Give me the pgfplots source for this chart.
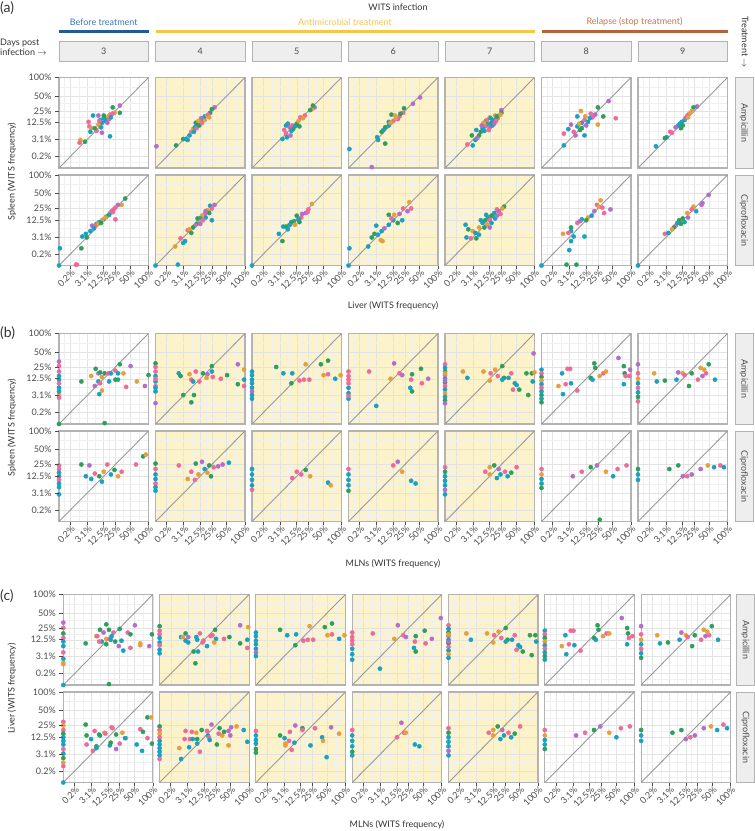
\documentclass[border=0pt]{standalone}
\usepackage{fontspec}
\setmainfont{Lato}
\usepackage{pgfplots}
\pgfplotsset{compat=1.18}
\definecolor{cp}{HTML}{EE6A9B}
\definecolor{co}{HTML}{E4A03C}
\definecolor{cg}{HTML}{2E9E5C}
\definecolor{ct}{HTML}{1AA0C0}
\definecolor{cv}{HTML}{B36DCB}
\definecolor{bgy}{HTML}{FCF3CB}
\definecolor{frm}{HTML}{B3B3B3}
\definecolor{txt}{HTML}{4D4D4D}
\definecolor{txtd}{HTML}{333333}
\definecolor{stripf}{HTML}{EEEEEE}
\definecolor{diag}{HTML}{999999}
\definecolor{lblue}{HTML}{245A94}
\definecolor{tblue}{HTML}{3C74B4}
\definecolor{lyel}{HTML}{F6C746}
\definecolor{tyel}{HTML}{F1C352}
\definecolor{lbrn}{HTML}{B5613A}
\definecolor{tbrn}{HTML}{C3744F}
\newcommand{\fs}{\fontsize{9}{10.5}\selectfont}
\pgfplotsset{
 panel/.style={scale only axis, width=89.5pt, height=90.5pt, xmin=0, xmax=1, ymin=0, ymax=1,
  xtick={0.125,0.315,0.5,0.63,0.7937,1}, ytick={0.125,0.315,0.5,0.63,0.7937,1},
  minor xtick={0.0625,0.22,0.4075,0.565,0.712,0.897}, minor ytick={0.0625,0.22,0.4075,0.565,0.712,0.897},
  grid=both, major grid style={draw=black!11, line width=0.5pt}, minor grid style={draw=black!6, line width=0.35pt},
  major tick length=0pt, minor tick length=0pt,
  xticklabels={}, yticklabels={},
  axis line style={draw=frm, line width=1.1pt},
  clip=false, anchor=south west},
 yel/.style={axis background/.style={fill=bgy}},
 L/.style={yticklabels={0.2\%,3.1\%,12.5\%,25\%,50\%,100\%}, yticklabel style={font=\fs, text=txt, xshift=-4pt}},
 B/.style={xticklabels={0.2\%,3.1\%,12.5\%,25\%,50\%,100\%}, xticklabel style={font=\fs, text=txt, rotate=45, anchor=north east, inner sep=1.5pt, yshift=-1pt}},
 pts/.style={only marks, mark=*, scatter, scatter src=explicit symbolic, mark size=2.1pt,
   scatter/classes={p={mark=*,draw=cp,fill=cp},o={mark=*,draw=co,fill=co},g={mark=*,draw=cg,fill=cg},t={mark=*,draw=ct,fill=ct},v={mark=*,draw=cv,fill=cv}}},
}
\newcommand{\pnl}[4]{\begin{axis}[panel,at={(#1pt,-#2pt)},#3]
\addplot[no marks, draw=diag, line width=0.9pt] coordinates {(0,0) (1,1)};
\addplot[pts] coordinates {#4};
\end{axis}}
\begin{document}
\begin{tikzpicture}[every node/.style={text=txtd}]
\path[use as bounding box] (0,0) rectangle (755pt,-831pt);
% ---------------- headers
\node[font=\fs] at (398pt,-7pt) {WITS infection};
\draw[lblue, line width=2.6pt] (59pt,-31.7pt) -- (148.5pt,-31.7pt);
\node[font=\fs, text=tblue] at (103.75pt,-22pt) {Before treatment};
\draw[lyel, line width=2.6pt] (155.5pt,-31.7pt) -- (534.5pt,-31.7pt);
\node[font=\fs, text=tyel] at (345pt,-22pt) {Antimicrobial treatment};
\draw[lbrn, line width=2.6pt] (541.5pt,-31.7pt) -- (727.5pt,-31.7pt);
\node[font=\fs, text=tbrn] at (634.5pt,-22pt) {Relapse (stop treatment)};
\foreach \x/\d in {59/3,155.5/4,252/5,348.5/6,445/7,541.5/8,638/9}{
 \draw[fill=stripf, draw=frm, line width=1pt] (\x pt,-41pt) rectangle ({\x pt+89.5pt},-61pt);
 \node[font=\fs, text=txt] at ({\x pt+44.75pt},-51pt) {\d};}
\node[font=\fs, anchor=west, align=left, inner sep=0pt] at (0pt,-47.5pt) {Days post\\infection $\rightarrow$};
\node[font=\fs, rotate=-90] at (745pt,-42pt) {Treatment $\rightarrow$};
\node[font=\fontsize{14}{16}\selectfont, anchor=west, inner sep=0pt] at (0pt,-8pt) {(a)};
\node[font=\fontsize{14}{16}\selectfont, anchor=west, inner sep=0pt] at (0pt,-333.5pt) {(b)};
\node[font=\fontsize{14}{16}\selectfont, anchor=west, inner sep=0pt] at (0pt,-596pt) {(c)};
% right strips
\foreach \t/\b/\lab/\xo in {77.5/168/Ampicillin/0,175/265.5/Ciprofloxacin/0,333.5/424/Ampicillin/0,431/521.5/Ciprofloxacin/0,594.5/685/Ampicillin/1.5,692/782.5/Ciprofloxacin/1.5}{
 \draw[fill=stripf, draw=frm, line width=1pt] ({735pt+\xo pt},-\t pt) rectangle ({753pt+\xo pt},-\b pt);
 \node[font=\fs, rotate=-90, text=txt] at ({744pt+\xo pt},{-(\t pt+\b pt)/2}) {\lab};}
% axis titles
\node[font=\fs, rotate=90] at (12pt,-171.5pt) {Spleen (WITS frequency)};
\node[font=\fs, rotate=90] at (12pt,-427.5pt) {Spleen (WITS frequency)};
\node[font=\fs, rotate=90] at (12pt,-688.5pt) {Liver (WITS frequency)};
\node[font=\fs] at (393pt,-306pt) {Liver (WITS frequency)};
\node[font=\fs] at (393pt,-564pt) {MLNs (WITS frequency)};
\node[font=\fs] at (397pt,-825pt) {MLNs (WITS frequency)};
% ================= (a) row 1
\pnl{59}{168}{L}{(0.68,0.69)[v] (0.60,0.67)[g] (0.68,0.61)[g] (0.62,0.61)[o] (0.57,0.59)[p] (0.60,0.60)[p] (0.38,0.58)[t] (0.44,0.58)[v] (0.33,0.51)[p] (0.34,0.46)[p] (0.36,0.44)[o] (0.57,0.35)[t] (0.24,0.31)[o] (0.23,0.28)[p] (0.29,0.29)[g] (0.46,0.53)[t] (0.50,0.55)[t] (0.53,0.55)[t] (0.48,0.50)[t] (0.52,0.52)[t] (0.44,0.48)[o] (0.42,0.41)[p] (0.48,0.39)[v] (0.35,0.40)[t] (0.55,0.57)[o] (0.56,0.54)[p] (0.50,0.58)[g] (0.47,0.45)[t] (0.40,0.44)[g] (0.54,0.50)[v] (0.45,0.52)[p] (0.58,0.56)[t]}
\pnl{155.5}{168}{yel}{(0.01,0.24)[v] (0.23,0.25)[g] (0.31,0.32)[g] (0.36,0.31)[t] (0.34,0.32)[t] (0.38,0.36)[t] (0.40,0.40)[p] (0.42,0.43)[o] (0.44,0.45)[t] (0.46,0.44)[p] (0.47,0.48)[t] (0.49,0.47)[g] (0.50,0.51)[t] (0.52,0.50)[p] (0.53,0.54)[t] (0.55,0.53)[o] (0.55,0.57)[t] (0.58,0.58)[o] (0.61,0.61)[g] (0.59,0.59)[p] (0.66,0.67)[v] (0.63,0.65)[g] (0.60,0.56)[o] (0.45,0.50)[g] (0.51,0.55)[v] (0.43,0.40)[t] (0.48,0.52)[o]}
\pnl{252}{168}{yel}{(0.70,0.67)[v] (0.67,0.65)[o] (0.65,0.64)[g] (0.68,0.69)[g] (0.59,0.58)[p] (0.54,0.56)[p] (0.57,0.55)[o] (0.38,0.47)[t] (0.40,0.49)[t] (0.42,0.45)[v] (0.45,0.47)[p] (0.48,0.46)[t] (0.50,0.49)[g] (0.53,0.46)[g] (0.46,0.43)[g] (0.38,0.38)[p] (0.34,0.32)[t] (0.39,0.34)[t] (0.43,0.36)[v] (0.52,0.52)[o] (0.36,0.42)[p] (0.44,0.41)[t]}
\pnl{348.5}{168}{yel}{(0.80,0.78)[v] (0.72,0.71)[v] (0.62,0.66)[g] (0.48,0.59)[g] (0.57,0.57)[p] (0.55,0.54)[v] (0.52,0.58)[o] (0.61,0.61)[p] (0.45,0.47)[t] (0.41,0.45)[g] (0.45,0.51)[t] (0.37,0.40)[g] (0.32,0.34)[t] (0.33,0.31)[t] (0.41,0.27)[g] (0.01,0.21)[t] (0.26,0.01)[v] (0.50,0.52)[p] (0.53,0.55)[o] (0.39,0.42)[t] (0.47,0.50)[o] (0.58,0.60)[g]}
\pnl{445}{168}{yel}{(0.63,0.64)[v] (0.63,0.61)[g] (0.56,0.58)[o] (0.50,0.56)[o] (0.46,0.52)[g] (0.59,0.55)[p] (0.55,0.53)[t] (0.52,0.50)[g] (0.48,0.48)[t] (0.45,0.46)[p] (0.42,0.44)[t] (0.40,0.40)[g] (0.44,0.41)[t] (0.50,0.45)[v] (0.53,0.47)[t] (0.57,0.52)[p] (0.60,0.58)[o] (0.38,0.36)[g] (0.30,0.36)[g] (0.34,0.31)[t] (0.25,0.26)[p] (0.31,0.25)[t] (0.36,0.33)[v] (0.47,0.53)[p] (0.51,0.55)[t] (0.43,0.50)[o] (0.55,0.49)[v] (0.58,0.57)[g] (0.49,0.42)[p] (0.41,0.47)[v] (0.62,0.59)[o] (0.35,0.42)[t]}
\pnl{541.5}{168}{}{(0.75,0.74)[v] (0.63,0.67)[g] (0.69,0.57)[g] (0.83,0.55)[p] (0.44,0.63)[o] (0.40,0.57)[t] (0.55,0.60)[p] (0.63,0.48)[o] (0.57,0.56)[p] (0.49,0.57)[o] (0.33,0.48)[v] (0.30,0.43)[t] (0.40,0.46)[t] (0.45,0.50)[t] (0.48,0.53)[p] (0.52,0.51)[t] (0.43,0.42)[g] (0.25,0.38)[p] (0.48,0.36)[t] (0.25,0.25)[t] (0.38,0.36)[v] (0.45,0.44)[g] (0.36,0.40)[p] (0.54,0.55)[t] (0.60,0.59)[v] (0.50,0.47)[v] (0.42,0.49)[o]}
\pnl{638}{168}{}{(0.66,0.68)[v] (0.62,0.67)[g] (0.60,0.63)[o] (0.57,0.60)[o] (0.55,0.58)[p] (0.52,0.53)[t] (0.49,0.51)[t] (0.47,0.49)[t] (0.45,0.47)[t] (0.50,0.47)[g] (0.53,0.55)[v] (0.42,0.45)[v] (0.36,0.40)[p] (0.38,0.39)[p] (0.32,0.34)[t] (0.30,0.33)[g] (0.20,0.24)[t] (0.48,0.44)[g] (0.56,0.56)[o]}
% ================= (a) row 2
\pnl{59}{265.5}{L,B}{(0.74,0.74)[g] (0.70,0.67)[o] (0.66,0.67)[v] (0.61,0.62)[p] (0.63,0.64)[p] (0.57,0.58)[o] (0.59,0.60)[v] (0.63,0.51)[p] (0.56,0.56)[t] (0.53,0.54)[g] (0.50,0.51)[t] (0.48,0.50)[o] (0.45,0.48)[t] (0.42,0.46)[t] (0.40,0.44)[p] (0.37,0.44)[v] (0.39,0.41)[t] (0.35,0.38)[t] (0.30,0.35)[t] (0.26,0.32)[t] (0.31,0.31)[g] (0.25,0.19)[g] (0.01,0.19)[t] (0.19,0.01)[p] (0.20,0.01)[p] (0.00,0.00)[t] (0.44,0.46)[o] (0.47,0.47)[g] (0.52,0.53)[o] (0.60,0.59)[p]}
\pnl{155.5}{265.5}{yel,B}{(0.66,0.67)[v] (0.61,0.66)[t] (0.63,0.63)[p] (0.58,0.61)[o] (0.60,0.58)[g] (0.55,0.57)[p] (0.56,0.53)[t] (0.52,0.55)[o] (0.50,0.52)[t] (0.53,0.50)[p] (0.48,0.49)[o] (0.46,0.46)[t] (0.50,0.46)[v] (0.44,0.44)[p] (0.42,0.42)[g] (0.63,0.50)[t] (0.36,0.39)[p] (0.38,0.40)[o] (0.40,0.36)[g] (0.31,0.25)[t] (0.28,0.30)[p] (0.33,0.27)[t] (0.22,0.21)[o] (0.25,0.01)[t] (0.00,0.00)[t] (0.56,0.60)[v] (0.47,0.52)[g]}
\pnl{252}{265.5}{yel,B}{(0.67,0.68)[o] (0.63,0.62)[p] (0.60,0.58)[v] (0.62,0.59)[p] (0.50,0.55)[g] (0.55,0.53)[p] (0.52,0.51)[t] (0.47,0.49)[t] (0.44,0.48)[g] (0.42,0.45)[t] (0.35,0.43)[t] (0.38,0.43)[g] (0.30,0.35)[t] (0.34,0.27)[g] (0.40,0.40)[t] (0.53,0.48)[g] (0.56,0.57)[v] (0.48,0.45)[o] (0.00,0.00)[t]}
\pnl{348.5}{265.5}{yel,B}{(0.68,0.70)[o] (0.61,0.63)[p] (0.70,0.63)[p] (0.66,0.60)[v] (0.45,0.56)[g] (0.51,0.56)[o] (0.57,0.57)[v] (0.60,0.50)[t] (0.55,0.47)[g] (0.50,0.50)[t] (0.31,0.44)[t] (0.37,0.38)[t] (0.29,0.35)[g] (0.33,0.34)[t] (0.26,0.31)[g] (0.36,0.28)[o] (0.38,0.27)[o] (0.22,0.21)[t] (0.01,0.19)[t] (0.45,0.45)[t] (0.48,0.52)[p] (0.40,0.41)[v] (0.00,0.00)[t]}
\pnl{445}{265.5}{yel,B}{(0.66,0.65)[g] (0.58,0.62)[p] (0.64,0.63)[o] (0.60,0.60)[v] (0.55,0.58)[t] (0.52,0.55)[g] (0.48,0.53)[t] (0.45,0.50)[g] (0.50,0.50)[p] (0.56,0.52)[t] (0.62,0.57)[p] (0.42,0.47)[t] (0.40,0.50)[t] (0.47,0.45)[o] (0.52,0.47)[t] (0.44,0.42)[g] (0.38,0.42)[o] (0.23,0.45)[t] (0.26,0.40)[g] (0.31,0.38)[o] (0.24,0.31)[t] (0.29,0.30)[p] (0.35,0.30)[g] (0.38,0.34)[t] (0.50,0.42)[v] (0.58,0.55)[v] (0.34,0.36)[t] (0.46,0.56)[t]}
\pnl{541.5}{265.5}{B}{(0.66,0.72)[o] (0.62,0.67)[p] (0.64,0.65)[o] (0.70,0.58)[p] (0.59,0.60)[v] (0.52,0.53)[o] (0.45,0.51)[t] (0.40,0.47)[p] (0.43,0.49)[v] (0.33,0.42)[g] (0.33,0.38)[t] (0.24,0.35)[o] (0.30,0.36)[p] (0.36,0.32)[t] (0.48,0.32)[t] (0.33,0.27)[t] (0.31,0.17)[t] (0.28,0.01)[g] (0.39,0.01)[g] (0.77,0.62)[v] (0.56,0.55)[t] (0.50,0.50)[g] (0.00,0.00)[t] (0.68,0.64)[p]}
\pnl{638}{265.5}{B}{(0.79,0.78)[v] (0.72,0.69)[v] (0.71,0.67)[v] (0.62,0.65)[o] (0.60,0.62)[p] (0.65,0.60)[t] (0.55,0.58)[o] (0.50,0.52)[g] (0.46,0.50)[g] (0.52,0.48)[t] (0.48,0.46)[g] (0.42,0.44)[p] (0.44,0.47)[t] (0.40,0.42)[g] (0.30,0.35)[p] (0.34,0.36)[t] (0.56,0.53)[v] (0.38,0.40)[o] (0.00,0.00)[t]}
% ================= (b) row 1
\pnl{59}{424}{L}{(0,0.69)[v] (0,0.64)[p] (0,0.58)[p] (0,0.53)[t] (0,0.49)[t] (0,0.45)[p] (0,0.40)[t] (0,0.32)[o] (0,0.29)[p] (0,0.36)[t] (0.25,0.47)[g] (0.36,0.53)[o] (0.41,0.61)[g] (0.44,0.56)[v] (0.46,0.57)[g] (0.48,0.52)[o] (0.44,0.47)[t] (0.46,0.45)[p] (0.51,0.56)[g] (0.55,0.56)[p] (0.58,0.56)[t] (0.56,0.47)[t] (0.63,0.59)[p] (0.68,0.66)[g] (0.80,0.64)[v] (0.66,0.56)[t] (0.72,0.56)[o] (0.75,0.41)[p] (0.87,0.47)[o] (0.96,0.42)[v] (1.00,0.54)[g] (0.45,0.33)[t] (0.48,0.37)[o] (0.40,0.42)[v] (0.66,0.49)[t] (0.51,0.01)[g] (0.63,0.49)[g] (0,0)[g]}
\pnl{155.5}{424}{yel}{(0,0.67)[g] (0,0.63)[p] (0,0.58)[p] (0,0.53)[t] (0,0.47)[t] (0,0.42)[p] (0,0.36)[t] (0,0.23)[v] (0,0.50)[p] (0,0.40)[t] (0.26,0.56)[t] (0.28,0.53)[g] (0.38,0.55)[o] (0.40,0.49)[p] (0.42,0.47)[t] (0.31,0.32)[g] (0.40,0.24)[g] (0.43,0.32)[g] (0.45,0.58)[p] (0.49,0.47)[p] (0.58,0.55)[v] (0.63,0.58)[t] (0.63,0.64)[g] (0.64,0.52)[p] (0.73,0.50)[p] (0.80,0.54)[g] (0.92,0.66)[v] (0.92,0.44)[g] (0.99,0.49)[t] (0.99,0.60)[o] (0.99,0.42)[p] (0.53,0.56)[g] (0.57,0.51)[o]}
\pnl{252}{424}{yel}{(0,0.58)[t] (0,0.54)[t] (0,0.49)[t] (0,0.45)[t] (0,0.40)[t] (0,0.36)[v] (0,0.32)[t] (0,0.28)[t] (0.27,0.63)[g] (0.35,0.56)[t] (0.45,0.56)[t] (0.44,0.45)[g] (0.53,0.48)[p] (0.58,0.49)[p] (0.64,0.49)[p] (0.60,0.66)[o] (0.77,0.66)[g] (0.85,0.70)[g] (0.80,0.54)[o] (0.85,0.55)[p] (0.99,0.54)[o] (0.93,0.50)[t]}
\pnl{348.5}{424}{yel}{(0,0.58)[p] (0,0.53)[p] (0,0.45)[p] (0,0.40)[t] (0,0.34)[t] (0,0.28)[t] (0,0.49)[p] (0,0.31)[p] (0.23,0.58)[p] (0.31,0.20)[t] (0.47,0.50)[o] (0.51,0.67)[v] (0.57,0.56)[p] (0.60,0.54)[v] (0.71,0.55)[g] (0.70,0.49)[p] (0.81,0.61)[g] (0.89,0.50)[v] (0.82,0.45)[p] (0.69,0.40)[t] (0.71,0.36)[g]}
\pnl{445}{424}{yel}{(0.99,0.78)[v] (0,0.66)[p] (0,0.62)[t] (0,0.58)[g] (0,0.54)[p] (0,0.50)[t] (0,0.46)[g] (0,0.42)[p] (0,0.38)[t] (0,0.34)[o] (0,0.30)[t] (0,0.26)[g] (0,0.23)[v] (0,0.48)[v] (0,0.56)[o] (0.20,0.58)[o] (0.25,0.51)[t] (0.43,0.58)[o] (0.51,0.56)[p] (0.56,0.60)[o] (0.64,0.64)[g] (0.50,0.48)[o] (0.59,0.53)[p] (0.66,0.51)[g] (0.64,0.49)[t] (0.71,0.51)[t] (0.78,0.45)[t] (0.74,0.56)[p] (0.80,0.43)[t] (0.83,0.38)[g] (0.76,0.38)[p] (0.93,0.32)[g] (0.91,0.56)[g] (0.97,0.56)[g] (1.00,0.57)[o] (0.98,0.47)[t]}
\pnl{541.5}{424}{}{(0,0.60)[t] (0,0.56)[p] (0,0.52)[g] (0,0.48)[o] (0,0.44)[t] (0,0.40)[p] (0,0.36)[t] (0,0.32)[g] (0,0.28)[t] (0,0.24)[g] (0.19,0.42)[o] (0.27,0.44)[p] (0.33,0.45)[t] (0.24,0.33)[t] (0.23,0.56)[t] (0.29,0.61)[p] (0.32,0.61)[p] (0.40,0.37)[p] (0.55,0.51)[g] (0.59,0.67)[g] (0.57,0.49)[t] (0.60,0.62)[g] (0.65,0.53)[o] (0.69,0.56)[p] (0.72,0.58)[o] (0.86,0.73)[v] (0.92,0.64)[g] (0.93,0.56)[g] (0.94,0.53)[p] (0.98,0.53)[p] (0.92,0.44)[t] (0.99,0.60)[v]}
\pnl{638}{424}{}{(0,0.66)[v] (0,0.56)[p] (0,0.50)[o] (0,0.45)[t] (0,0.40)[p] (0,0.35)[t] (0,0.30)[g] (0,0.25)[p] (0.18,0.56)[o] (0.21,0.47)[t] (0.30,0.48)[g] (0.45,0.57)[v] (0.43,0.49)[t] (0.50,0.56)[o] (0.57,0.42)[g] (0.52,0.54)[p] (0.60,0.56)[g] (0.67,0.49)[p] (0.70,0.62)[o] (0.72,0.53)[v] (0.79,0.66)[g] (0.76,0.56)[p] (0.74,0.60)[o] (0.86,0.49)[t]}
% ================= (b) row 2
\pnl{59}{521.5}{L,B}{(0,0.62)[p] (0,0.58)[p] (0,0.54)[t] (0,0.50)[t] (0,0.46)[p] (0,0.42)[t] (0,0.38)[t] (0,0.30)[t] (0.25,0.63)[g] (0.34,0.62)[v] (0.30,0.50)[t] (0.36,0.47)[t] (0.40,0.53)[p] (0.45,0.50)[g] (0.50,0.55)[o] (0.54,0.63)[p] (0.58,0.52)[t] (0.62,0.57)[g] (0.66,0.50)[o] (0.70,0.55)[p] (0.86,0.63)[p] (0.94,0.72)[g] (0.97,0.74)[o] (0.48,0.44)[t]}
\pnl{155.5}{521.5}{yel,B}{(0,0.64)[g] (0,0.58)[p] (0,0.52)[t] (0,0.47)[t] (0,0.42)[p] (0,0.38)[t] (0,0.34)[t] (0.26,0.62)[p] (0.45,0.64)[g] (0.52,0.66)[v] (0.40,0.55)[p] (0.48,0.52)[o] (0.55,0.58)[t] (0.60,0.62)[g] (0.65,0.60)[p] (0.70,0.61)[v] (0.75,0.63)[v] (0.82,0.65)[t] (0.36,0.47)[o] (0.44,0.46)[p] (0.58,0.54)[o] (0.62,0.50)[g]}
\pnl{252}{521.5}{yel,B}{(0,0.58)[t] (0,0.52)[t] (0,0.46)[t] (0,0.40)[t] (0,0.35)[p] (0.50,0.55)[p] (0.55,0.52)[p] (0.60,0.57)[g] (0.65,0.50)[o] (0.85,0.43)[t] (0.88,0.40)[o] (0.45,0.48)[p]}
\pnl{348.5}{521.5}{yel,B}{(0,0.58)[p] (0,0.52)[t] (0,0.46)[t] (0,0.40)[t] (0,0.34)[g] (0.50,0.62)[p] (0.55,0.66)[v] (0.70,0.45)[t] (0.75,0.42)[t] (0.60,0.55)[o]}
\pnl{445}{521.5}{yel,B}{(0,0.60)[p] (0,0.55)[g] (0,0.50)[t] (0,0.45)[t] (0,0.40)[t] (0,0.35)[v] (0,0.30)[t] (0.45,0.55)[p] (0.50,0.60)[o] (0.55,0.62)[g] (0.60,0.58)[v] (0.62,0.52)[t] (0.67,0.55)[p] (0.70,0.50)[t] (0.74,0.54)[g] (0.80,0.60)[p] (0.58,0.48)[t] (0.50,0.52)[o]}
\pnl{541.5}{521.5}{B}{(0,0.58)[p] (0,0.52)[o] (0,0.47)[t] (0,0.42)[t] (0,0.37)[g] (0.35,0.50)[v] (0.45,0.55)[p] (0.55,0.60)[g] (0.62,0.62)[v] (0.72,0.55)[o] (0.80,0.50)[t] (0.85,0.58)[p] (0.95,0.62)[p] (0.65,0.02)[g]}
\pnl{638}{521.5}{B}{(0,0.58)[g] (0,0.52)[t] (0,0.46)[t] (0.35,0.58)[g] (0.45,0.62)[g] (0.55,0.50)[p] (0.60,0.52)[v] (0.70,0.58)[v] (0.78,0.62)[o] (0.85,0.60)[t] (0.92,0.62)[p] (0.96,0.60)[t] (0.50,0.50)[v]}
% ================= (c) row 1
\pnl{63.3}{685}{L}{(0,0.69)[v] (0,0.63)[p] (0,0.57)[g] (0,0.52)[p] (0,0.48)[t] (0,0.43)[t] (0,0.36)[p] (0,0.29)[t] (0,0.245)[o] (0,0.23)[o] (0.25,0.46)[g] (0.37,0.54)[o] (0.38,0.54)[p] (0.41,0.61)[g] (0.45,0.58)[v] (0.48,0.67)[g] (0.51,0.61)[g] (0.43,0.48)[t] (0.48,0.51)[o] (0.52,0.51)[p] (0.53,0.50)[t] (0.56,0.58)[p] (0.54,0.54)[t] (0.58,0.48)[g] (0.40,0.48)[p] (0.48,0.45)[g] (0.62,0.43)[v] (0.65,0.49)[t] (0.67,0.38)[t] (0.72,0.58)[p] (0.75,0.56)[g] (0.63,0.62)[g] (0.80,0.66)[v] (0.75,0.41)[p] (0.86,0.46)[o] (0.86,0.44)[o] (0.96,0.43)[v] (0.99,0.56)[g] (0.51,0.01)[g] (0,0)[t]}
\pnl{159.6}{685}{yel}{(0,0.65)[g] (0,0.60)[p] (0,0.56)[p] (0,0.52)[t] (0,0.47)[t] (0,0.44)[p] (0,0.39)[t] (0,0.35)[t] (0.24,0.53)[t] (0.26,0.53)[o] (0.29,0.57)[g] (0.29,0.49)[t] (0.32,0.47)[t] (0.32,0.53)[v] (0.45,0.57)[p] (0.38,0.37)[g] (0.43,0.37)[t] (0.40,0.24)[g] (0.41,0.53)[t] (0.42,0.50)[t] (0.49,0.49)[p] (0.48,0.47)[p] (0.62,0.61)[g] (0.57,0.54)[p] (0.59,0.55)[p] (0.63,0.51)[t] (0.53,0.43)[t] (0.61,0.47)[o] (0.72,0.51)[p] (0.78,0.53)[g] (0.90,0.66)[v] (0.90,0.46)[g] (0.99,0.64)[o] (0.98,0.50)[t] (0.98,0.41)[p]}
\pnl{255.9}{685}{yel}{(0,0.58)[t] (0,0.54)[t] (0,0.49)[t] (0,0.45)[t] (0,0.40)[t] (0,0.36)[v] (0,0.32)[t] (0.27,0.61)[g] (0.35,0.55)[t] (0.45,0.56)[t] (0.44,0.44)[g] (0.53,0.49)[p] (0.58,0.50)[p] (0.64,0.50)[p] (0.60,0.65)[o] (0.77,0.64)[g] (0.85,0.68)[g] (0.80,0.55)[o] (0.85,0.56)[p] (0.99,0.55)[o] (0.93,0.51)[t]}
\pnl{352.2}{685}{yel}{(0,0.58)[p] (0,0.53)[p] (0,0.45)[p] (0,0.40)[t] (0,0.34)[t] (0,0.28)[t] (0,0.49)[p] (0.23,0.57)[p] (0.31,0.18)[t] (0.47,0.51)[o] (0.51,0.66)[v] (0.57,0.55)[p] (0.60,0.53)[v] (0.71,0.54)[g] (0.70,0.48)[p] (0.81,0.60)[g] (0.89,0.51)[v] (0.82,0.46)[p] (0.69,0.41)[t] (0.71,0.37)[g] (0.99,0.74)[v]}
\pnl{448.5}{685}{yel}{(0,0.66)[p] (0,0.62)[t] (0,0.58)[g] (0,0.54)[p] (0,0.50)[t] (0,0.46)[g] (0,0.42)[p] (0,0.38)[t] (0,0.34)[o] (0,0.30)[t] (0,0.48)[v] (0,0.56)[o] (0.20,0.57)[o] (0.25,0.50)[t] (0.43,0.57)[o] (0.51,0.55)[p] (0.56,0.59)[o] (0.64,0.63)[g] (0.50,0.47)[o] (0.59,0.52)[p] (0.66,0.50)[g] (0.64,0.48)[t] (0.71,0.50)[t] (0.78,0.44)[t] (0.74,0.55)[p] (0.80,0.42)[t] (0.83,0.37)[g] (0.76,0.39)[p] (0.93,0.33)[g] (0.91,0.55)[g] (0.97,0.55)[g] (0.98,0.48)[t]}
\pnl{544.8}{685}{}{(0,0.60)[t] (0,0.56)[p] (0,0.52)[g] (0,0.48)[o] (0,0.44)[t] (0,0.40)[p] (0,0.36)[t] (0,0.32)[g] (0,0.28)[t] (0.19,0.43)[o] (0.27,0.45)[p] (0.33,0.44)[t] (0.24,0.34)[t] (0.23,0.55)[t] (0.29,0.60)[p] (0.32,0.60)[p] (0.40,0.38)[p] (0.55,0.52)[g] (0.59,0.66)[g] (0.57,0.50)[t] (0.60,0.61)[g] (0.65,0.54)[o] (0.69,0.57)[p] (0.72,0.57)[o] (0.86,0.74)[v] (0.92,0.63)[g] (0.93,0.57)[g] (0.94,0.52)[p] (0.98,0.54)[p] (0.92,0.45)[t]}
\pnl{641.1}{685}{}{(0,0.65)[v] (0,0.56)[p] (0,0.50)[o] (0,0.45)[t] (0,0.40)[p] (0,0.35)[t] (0,0.30)[g] (0.18,0.55)[o] (0.21,0.46)[t] (0.30,0.47)[g] (0.45,0.58)[v] (0.43,0.50)[t] (0.50,0.55)[o] (0.57,0.43)[g] (0.52,0.53)[p] (0.60,0.55)[g] (0.67,0.50)[p] (0.70,0.61)[o] (0.72,0.54)[v] (0.79,0.65)[g] (0.76,0.55)[p] (0.74,0.59)[o] (0.86,0.50)[t]}
% ================= (c) row 2
\pnl{63.3}{782.5}{L,B}{(0,0.67)[p] (0,0.63)[o] (0,0.58)[p] (0,0.54)[g] (0,0.50)[t] (0,0.46)[t] (0,0.42)[t] (0,0.37)[p] (0,0.32)[t] (0,0.27)[g] (0,0.22)[o] (0,0.18)[p] (0.25,0.64)[g] (0.26,0.52)[g] (0.26,0.42)[p] (0.31,0.48)[t] (0.37,0.40)[g] (0.33,0.35)[p] (0.37,0.38)[t] (0.35,0.57)[p] (0.40,0.53)[t] (0.41,0.52)[g] (0.46,0.55)[o] (0.47,0.54)[p] (0.52,0.41)[t] (0.54,0.61)[p] (0.55,0.60)[p] (0.53,0.44)[g] (0.59,0.53)[g] (0.63,0.43)[p] (0.59,0.37)[v] (0.66,0.55)[o] (0.70,0.49)[o] (0.69,0.49)[t] (0.82,0.42)[t] (0.88,0.35)[t] (0.86,0.59)[p] (0.89,0.56)[g] (0.94,0.72)[g] (0.98,0.72)[o] (0.94,0.49)[p] (0.99,0.43)[g] (0,0)[t]}
\pnl{159.6}{782.5}{yel,B}{(0,0.62)[g] (0,0.58)[p] (0,0.54)[o] (0,0.50)[p] (0,0.46)[t] (0,0.42)[t] (0,0.38)[t] (0,0.34)[t] (0,0.30)[t] (0,0.26)[p] (0.22,0.38)[o] (0.24,0.26)[t] (0.29,0.57)[p] (0.28,0.48)[p] (0.33,0.39)[t] (0.34,0.48)[p] (0.41,0.55)[o] (0.36,0.56)[p] (0.37,0.48)[t] (0.42,0.48)[g] (0.42,0.43)[t] (0.45,0.34)[p] (0.47,0.58)[g] (0.53,0.57)[p] (0.54,0.52)[t] (0.55,0.50)[p] (0.56,0.47)[t] (0.58,0.64)[v] (0.64,0.42)[g] (0.67,0.60)[g] (0.66,0.54)[p] (0.70,0.52)[o] (0.72,0.56)[g] (0.77,0.41)[o] (0.77,0.57)[v] (0.80,0.61)[v] (0.86,0.62)[o] (0.79,0.52)[v] (0.94,0.58)[t] (0.98,0.45)[t]}
\pnl{255.9}{782.5}{yel,B}{(0,0.57)[p] (0,0.52)[t] (0,0.47)[t] (0,0.43)[t] (0,0.37)[g] (0,0.33)[g] (0.27,0.52)[g] (0.32,0.49)[t] (0.33,0.43)[o] (0.33,0.41)[o] (0.38,0.56)[p] (0.37,0.46)[p] (0.43,0.44)[t] (0.40,0.36)[p] (0.44,0.63)[v] (0.52,0.60)[g] (0.52,0.58)[p] (0.66,0.60)[p] (0.61,0.41)[t] (0.74,0.50)[t] (0.75,0.46)[o] (0.79,0.28)[t] (0.84,0.61)[v] (0.93,0.54)[o]}
\pnl{352.2}{782.5}{yel,B}{(0,0.58)[p] (0,0.52)[t] (0,0.46)[t] (0,0.40)[t] (0,0.34)[g] (0,0.30)[t] (0.50,0.50)[p] (0.58,0.55)[p] (0.55,0.66)[v] (0.70,0.42)[t] (0.75,0.40)[t] (0.60,0.55)[o]}
\pnl{448.5}{782.5}{yel,B}{(0,0.60)[p] (0,0.55)[g] (0,0.50)[t] (0,0.45)[t] (0,0.40)[t] (0,0.35)[v] (0,0.30)[t] (0.45,0.55)[p] (0.50,0.58)[o] (0.55,0.62)[g] (0.60,0.58)[v] (0.62,0.52)[t] (0.67,0.55)[p] (0.70,0.50)[t] (0.74,0.54)[g] (0.80,0.62)[p] (0.58,0.48)[t] (0.50,0.52)[o]}
\pnl{544.8}{782.5}{B}{(0,0.58)[p] (0,0.52)[o] (0,0.47)[t] (0,0.42)[t] (0,0.37)[g] (0.35,0.52)[v] (0.45,0.55)[p] (0.55,0.58)[g] (0.62,0.62)[v] (0.72,0.55)[o] (0.80,0.50)[t] (0.85,0.60)[p] (0.95,0.62)[p]}
\pnl{641.1}{782.5}{B}{(0,0.58)[g] (0,0.52)[t] (0,0.46)[t] (0.35,0.55)[g] (0.45,0.58)[g] (0.55,0.50)[p] (0.60,0.52)[v] (0.70,0.60)[v] (0.78,0.62)[o] (0.85,0.58)[t] (0.92,0.64)[p] (0.96,0.60)[t] (0.50,0.48)[v]}
% ---------------- tick marks
\foreach \b/\x in {168/59,265.5/59,424/59,521.5/59,685/63.3,782.5/63.3}{
 \foreach \u in {0.125,0.315,0.5,0.63,0.7937,1}{
  \draw[txt, line width=0.6pt] ({\x pt-4pt},{-\b pt+\u*90.5pt}) -- (\x pt,{-\b pt+\u*90.5pt});}}
\foreach \b/\xo/\st in {265.5/59/96.5,521.5/59/96.5,782.5/63.3/96.3}{
 \foreach \c in {0,...,6}{
  \foreach \u in {0.125,0.315,0.5,0.63,0.7937,1}{
   \draw[txt, line width=0.6pt] ({\xo pt+\c*\st pt+\u*89.5pt},-\b pt) -- ++(0,-3.5pt);}}}
\end{tikzpicture}
\end{document}
